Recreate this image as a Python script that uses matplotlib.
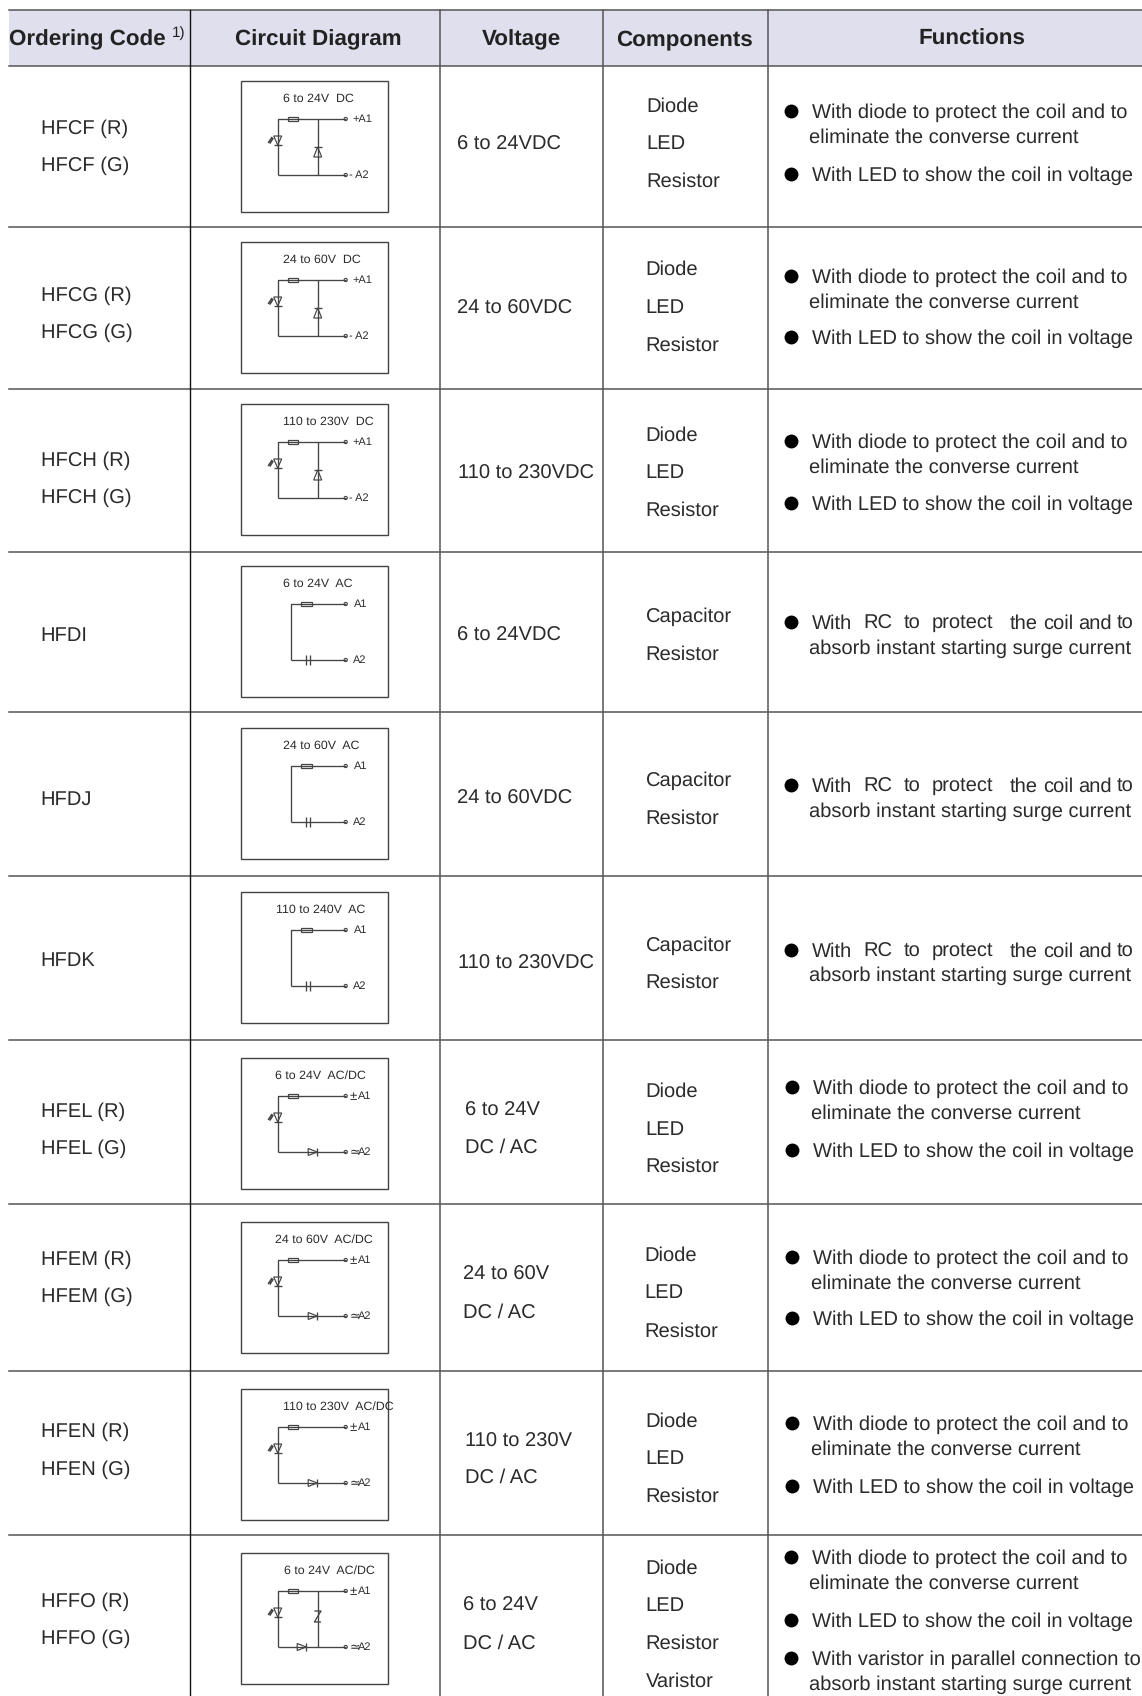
import matplotlib
matplotlib.use('Agg')
import matplotlib.pyplot as plt
from matplotlib.patches import Rectangle, Polygon, Circle

plt.rcParams['font.family'] = ['Liberation Sans', 'DejaVu Sans']
plt.rcParams['text.hinting'] = 'no_hinting'
plt.rcParams['text.hinting_factor'] = 8

# table contents
headers = ['Circuit Diagram', 'Voltage', 'Components', 'Functions']
ordering_codes = [
    ['HFCF (R)', 'HFCF (G)'], ['HFCG (R)', 'HFCG (G)'], ['HFCH (R)', 'HFCH (G)'],
    ['HFDI'], ['HFDJ'], ['HFDK'],
    ['HFEL (R)', 'HFEL (G)'], ['HFEM (R)', 'HFEM (G)'], ['HFEN (R)', 'HFEN (G)'],
    ['HFFO (R)', 'HFFO (G)'],
]
voltages = [
    ['6 to 24VDC'], ['24 to 60VDC'], ['110 to 230VDC'],
    ['6 to 24VDC'], ['24 to 60VDC'], ['110 to 230VDC'],
    ['6 to 24V', 'DC / AC'], ['24 to 60V', 'DC / AC'], ['110 to 230V', 'DC / AC'],
    ['6 to 24V', 'DC / AC'],
]
dlr = ['Diode', 'LED', 'Resistor']
cr = ['Capacitor', 'Resistor']
components = [dlr, dlr, dlr, cr, cr, cr, dlr, dlr, dlr, dlr + ['Varistor']]
diagram_titles = [
    '6 to 24V  DC', '24 to 60V  DC', '110 to 230V  DC',
    '6 to 24V  AC', '24 to 60V  AC', '110 to 240V  AC',
    '6 to 24V  AC/DC', '24 to 60V  AC/DC', '110 to 230V  AC/DC', '6 to 24V  AC/DC',
]
diagram_kinds = ['dc', 'dc', 'dc', 'ac', 'ac', 'ac', 'acdc', 'acdc', 'acdc', 'var']

diode_text = ['With diode to protect the coil and to', 'eliminate the converse current']
led_text = ['With LED to show the coil in voltage']
rc_words = ['With', 'RC', 'to', 'protect', 'the', 'coil', 'and', 'to']
rc_text2 = 'absorb instant starting surge current'
var_text = ['With varistor in parallel connection to', 'absorb instant starting surge current']

# layout, in pixels of the final picture
S = 1142 / 1056
h_lines = [9.5, 65.7, 227, 389, 552, 712, 876, 1040, 1204, 1371, 1535]
v_lines = [439.5, 603, 768]
box_tops = [81, 242, 404, 566, 728, 892, 1058, 1222, 1389, 1553]
title_x = [283, 283, 283, 283, 283, 276, 275, 275, 283, 284]

code_y = [[117, 152], [272, 306], [424, 459], [586], [738], [887],
          [1026, 1061], [1163, 1197], [1322, 1357], [1479, 1514]]
code_x = [38, 38, 38, 37, 37, 37, 38, 38, 38, 38]
volt_y = [[132], [284], [436], [586], [737], [889],
          [1025, 1060], [1177, 1212], [1331, 1365], [1483, 1518]]
volt_x = [423, 423, 423.5, 423, 423, 423.5, 430, 428.5, 430, 428.5]
comp_y = [[97, 131, 166], [248, 283, 318], [401, 436, 471], [569, 604], [720, 755], [873, 907],
          [1008, 1043, 1077], [1159, 1194, 1230], [1313, 1347, 1382], [1449, 1483, 1518, 1553]]
comp_x = [598, 597, 597, 597, 597, 597, 597, 596, 597, 597]
func_y = [[103, 126, 161], [255, 278, 312], [408, 431, 465], [575, 598], [726, 749], [878, 901],
          [1005, 1028, 1063], [1162, 1185, 1219], [1316, 1339, 1374], [1440, 1463, 1498, 1533, 1556]]
rc_word_x = [812, 863.5, 903.5, 932, 1009.5, 1043.5, 1078.5, 1117]

TEXT = '#2b2b2b'
LINE = '#555555'
WIRE = '#444444'
MAIN = 14.47
SMALL = 8.95
LABEL = 7.9
HEAD = 16.15


fig = plt.figure(figsize=(11.42, 16.96), dpi=100)
ax = fig.add_axes([0, 0, 1, 1])
ax.set_xlim(0, 1142)
ax.set_ylim(1696, 0)
ax.axis('off')


def put(x, y, s, size=MAIN, **kw):
    # y is the visual middle of the line, placed by baseline so descenders do not shift it
    kw.setdefault('color', TEXT)
    base = y + 1.5 + 0.27 * size * 100 / 72
    ax.text(x, base, s, fontsize=size, va='baseline', zorder=6, **kw)


def wire(xs, ys, lw=0.95):
    ax.plot(xs, ys, color=WIRE, lw=lw, solid_capstyle='butt', zorder=5)


def shape(points, fill='white'):
    ax.add_patch(Polygon(points, closed=True, fc=fill, ec=WIRE, lw=0.85, zorder=4))


def resistor(x0, x1, y):
    ax.add_patch(Rectangle((x0, y - 2.3), x1 - x0, 4.6, fc='white', ec=WIRE, lw=0.9, zorder=4))


def terminal(x, y):
    ax.add_patch(Circle((x, y), 1.6, fc='white', ec=WIRE, lw=0.8, zorder=4))


def led(x, y):
    shape([(x - 4, y - 4), (x + 4, y - 4), (x, y + 5)])
    wire([x - 4, x + 4], [y + 5, y + 5])
    wire([x - 9.5, x - 5.5], [y + 3, y - 3], lw=1.2)
    wire([x - 8, x - 4.5], [y + 3.5, y - 2], lw=1.2)


def diode_up(x, y):
    shape([(x - 4, y + 5), (x + 4, y + 5), (x, y - 5)])
    wire([x - 4, x + 4], [y - 5, y - 5])


def diode_right(x, y):
    shape([(x - 4.5, y - 3.5), (x - 4.5, y + 3.5), (x + 4.5, y)])
    wire([x + 4.5, x + 4.5], [y - 4, y + 4])


def draw_diagram(left, top, kind, title, tx):
    ax.add_patch(Rectangle((left, top), 147, 131, fc='white', ec=WIRE, lw=1.0, zorder=2))
    put(tx, top + 16, title, size=SMALL)
    y1, y2 = top + 38, top + 94
    xt = left + 105
    if kind == 'ac':
        xl = left + 50
        wire([xl, xl, xt], [y2, y1, y1])
        wire([xl, xt], [y2, y2])
        resistor(left + 60, left + 71, y1)
        ax.add_patch(Rectangle((left + 65.5, y2 - 5), 4, 10, fc='white', ec='none', zorder=4.5))
        wire([left + 65.5] * 2, [y2 - 5, y2 + 5])
        wire([left + 69.5] * 2, [y2 - 5, y2 + 5])
        put(left + 113, y1 - 1, 'A1', size=LABEL)
        put(left + 112, y2 - 1, 'A2', size=LABEL)
    else:
        xl = left + 37
        wire([xl, xl, xt], [y2, y1, y1])
        wire([xl, xt], [y2, y2])
        resistor(left + 47, left + 57.5, y1)
        led(xl, top + 59)
        if kind == 'dc':
            xm = left + 77
            wire([xm, xm], [y1, y2])
            diode_up(xm, top + 71)
            put(left + 111.5, y1 - 1, '+A1', size=LABEL)
            put(left + 108.5, y2 - 1, '- A2', size=LABEL)
        else:
            put(left + 108.5, y1 - 1, '\u00b1', size=9.5)
            put(left + 117, y1 - 1, 'A1', size=LABEL)
            put(left + 108.5, y2 - 1, '\u2243', size=9, family=['DejaVu Sans'])
            put(left + 117, y2 - 1, 'A2', size=LABEL)
            if kind == 'acdc':
                diode_right(left + 72, y2)
            else:
                xm = left + 77
                wire([xm, xm], [y1, y2])
                ax.add_patch(Rectangle((xm - 4, top + 57), 8, 13, fc='white', ec='none', zorder=4.5))
                wire([xm - 3.3, xm + 3.3, xm - 3.3, xm + 3.3], [top + 58, top + 58, top + 69, top + 69])
                diode_right(left + 61, y2)
    terminal(xt, y1)
    terminal(xt, y2)


def bullet(x, y):
    ax.plot([x], [y], 'o', color='black', ms=10, mew=0, zorder=5)


# header band and grid
ax.add_patch(Rectangle((9, h_lines[0]), 1133, h_lines[1] - h_lines[0], fc='#e0dfee', ec='none', zorder=0))
for y in h_lines:
    ax.plot([9, 1142], [y, y], color=LINE, lw=1.1, zorder=1)
ax.plot([189.5, 189.5], [h_lines[0], 1696], color='#111111', lw=1.0, zorder=1)
for x in v_lines:
    ax.plot([x, x], [h_lines[0], 1696], color=LINE, lw=1.1, zorder=1)

# header text
put(9, 37.5, 'Ordering Code', size=HEAD, fontweight='bold', color='#222222')
put(171.5, 31, '1)', size=11, color='#222222')
for x, label in zip([318.5, 521, 684.5, 972], headers):
    put(x, 37.5, label, size=HEAD, fontweight='bold', color='#222222', ha='center')

for i in range(10):
    for s, y in zip(ordering_codes[i], code_y[i]):
        put(code_x[i] * S, y * S, s)
    for s, y in zip(voltages[i], volt_y[i]):
        put(volt_x[i] * S, y * S, s)
    for s, y in zip(components[i], comp_y[i]):
        put(comp_x[i] * S, y * S, s)
    draw_diagram(240.7, box_tops[i], diagram_kinds[i], diagram_titles[i], title_x[i])

    ys = func_y[i]
    shift = 1 if i in (6, 7, 8) else 0
    xb, x1, x2 = (731.5 + shift) * S, (750.5 + shift) * S, (748.5 + 1.5 * shift) * S
    bullet(xb, ys[0] * S)
    if diagram_kinds[i] == 'ac':
        for w, wx in zip(rc_words, rc_word_x):
            put(wx, ys[0] * S, w)
        put(x2, ys[1] * S, rc_text2)
    else:
        put(x1, ys[0] * S, diode_text[0])
        put(x2, ys[1] * S, diode_text[1])
        bullet(xb, ys[2] * S)
        put(x1, ys[2] * S, led_text[0])
        if diagram_kinds[i] == 'var':
            bullet(xb, ys[3] * S)
            put(x1, ys[3] * S, var_text[0])
            put(x2, ys[4] * S, var_text[1])

fig.savefig('out.png', dpi=100)
